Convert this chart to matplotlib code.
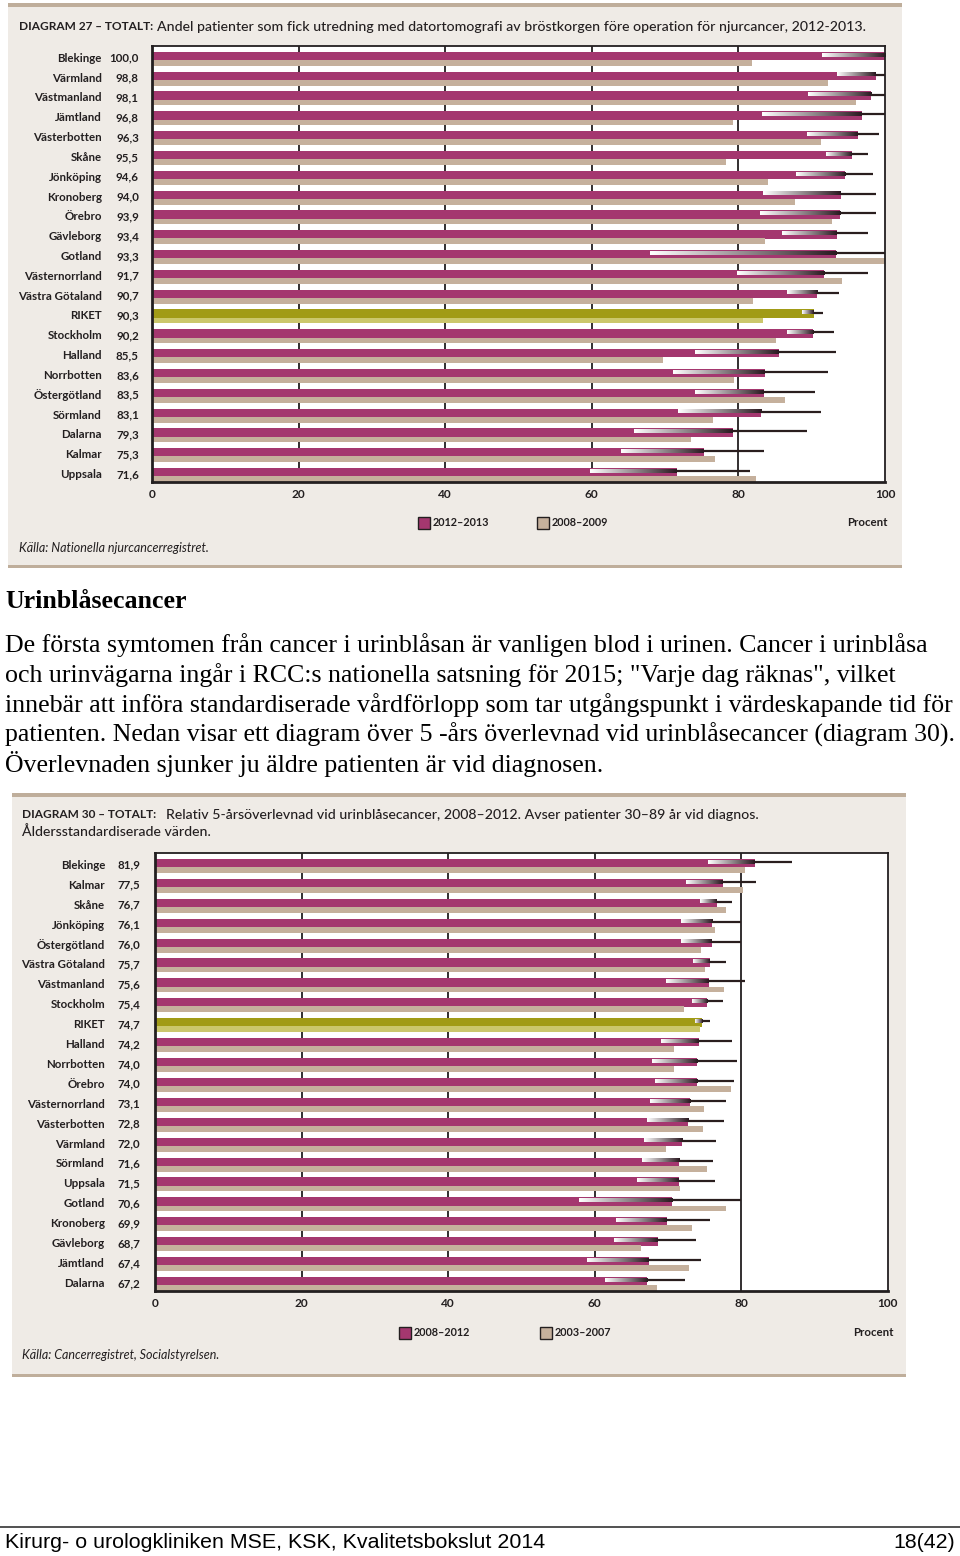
import matplotlib
matplotlib.use('Agg')
import matplotlib.pyplot as plt
import numpy as np
from matplotlib.patches import Rectangle
from matplotlib import transforms
from matplotlib.lines import Line2D

W, H = 960, 1556

# ---------------- Diagram 27 data ----------------
d27_regions = ["Blekinge", "Värmland", "Västmanland", "Jämtland", "Västerbotten", "Skåne",
               "Jönköping", "Kronoberg", "Örebro", "Gävleborg", "Gotland", "Västernorrland",
               "Västra Götaland", "RIKET", "Stockholm", "Halland", "Norrbotten", "Östergötland",
               "Sörmland", "Dalarna", "Kalmar", "Uppsala"]
d27_2012_2013 = [100.0, 98.8, 98.1, 96.8, 96.3, 95.5, 94.6, 94.0, 93.9, 93.4, 93.3, 91.7,
                 90.7, 90.3, 90.2, 85.5, 83.6, 83.5, 83.1, 79.3, 75.3, 71.6]
d27_2008_2009 = [81.8, 92.2, 96.1, 79.2, 91.3, 78.3, 84.0, 87.7, 92.8, 83.6, 100.0, 94.2,
                 82.0, 83.4, 85.1, 69.7, 79.4, 86.4, 76.5, 73.6, 76.8, 82.4]
d27_ci_low = [91.4, 93.5, 89.5, 83.2, 89.4, 92.0, 87.8, 83.4, 82.9, 86.0, 67.9, 79.8,
              86.6, 88.7, 86.6, 74.1, 71.1, 74.1, 71.7, 65.8, 64.0, 59.8]
d27_ci_high = [100.0, 100.0, 100.0, 100.0, 99.2, 97.7, 98.3, 98.8, 98.8, 97.7, 100.0, 97.7,
               93.7, 91.5, 93.1, 93.3, 92.2, 90.5, 91.3, 89.3, 83.5, 81.6]

# ---------------- Diagram 30 data ----------------
d30_regions = ["Blekinge", "Kalmar", "Skåne", "Jönköping", "Östergötland", "Västra Götaland",
               "Västmanland", "Stockholm", "RIKET", "Halland", "Norrbotten", "Örebro",
               "Västernorrland", "Västerbotten", "Värmland", "Sörmland", "Uppsala", "Gotland",
               "Kronoberg", "Gävleborg", "Jämtland", "Dalarna"]
d30_2008_2012 = [81.9, 77.5, 76.7, 76.1, 76.0, 75.7, 75.6, 75.4, 74.7, 74.2, 74.0, 74.0,
                 73.1, 72.8, 72.0, 71.6, 71.5, 70.6, 69.9, 68.7, 67.4, 67.2]
d30_2003_2007 = [80.5, 80.3, 77.9, 76.4, 74.6, 75.1, 77.7, 72.2, 74.4, 70.9, 70.9, 78.6,
                 75.0, 74.8, 69.7, 75.3, 71.7, 77.9, 73.3, 66.4, 72.9, 68.6]
d30_ci_low = [75.5, 72.5, 74.4, 71.8, 71.8, 73.5, 69.8, 73.3, 73.7, 69.1, 67.8, 68.2,
              67.6, 67.2, 66.7, 66.5, 65.8, 57.9, 63.0, 62.7, 59.0, 61.4]
d30_ci_high = [87.0, 82.0, 78.8, 80.0, 80.0, 78.0, 80.5, 77.5, 75.7, 78.8, 79.5, 79.0,
               78.0, 77.7, 76.6, 76.2, 76.4, 80.0, 75.7, 73.9, 74.6, 72.4]

x_ticks = [0, 20, 40, 60, 80, 100]

# ---------------- styles ----------------
PURPLE = '#a4376f'
TAN = '#c5b09c'
RIKET_DARK = '#a19b16'
RIKET_LIGHT = '#cbc76c'
PANEL = '#efebe6'
BORDER = '#bfae9b'
DARK = '#231f20'
FONT = 'Lato'
LBL = 8.3

fig = plt.figure(figsize=(W / 100, H / 100), dpi=100)
fig.patch.set_facecolor('white')


def ft(x, y, s, **kw):
    return fig.text(x / W, 1 - y / H, s, **kw)


def add_axes(l, t, r, b):
    return fig.add_axes([l / W, 1 - b / H, (r - l) / W, (b - t) / H])


def panel(l, t, r, b):
    fig.add_artist(Rectangle((l / W, 1 - b / H), (r - l) / W, (b - t) / H,
                             transform=fig.transFigure, facecolor=PANEL, edgecolor='none', zorder=0))
    for yy, hh in ((t, 4), (b - 3, 3)):
        fig.add_artist(Rectangle((l / W, 1 - (yy + hh) / H), (r - l) / W, hh / H,
                                 transform=fig.transFigure, facecolor=BORDER, edgecolor='none', zorder=0))


GRAD = np.linspace(0, 1, 64)
C0 = np.array([1.0, 1.0, 1.0])
C1 = np.array([0.17, 0.10, 0.13])
GRAD_IMG = (C0[None, :] + (C1 - C0)[None, :] * GRAD[:, None])[None, :, :]


def chart(ax, regions, cur, prev, low, high, name_x, val_x):
    n = len(regions)
    ax.set_facecolor('white')
    for xv in x_ticks[1:-1]:
        ax.axvline(xv, color=DARK, lw=1.3, zorder=1)
    trans = transforms.blended_transform_factory(fig.transFigure, ax.transData)
    for i, reg in enumerate(regions):
        riket = reg == 'RIKET'
        ax.barh(i + 0.505, cur[i], height=0.42, color=RIKET_DARK if riket else PURPLE,
                edgecolor='none', zorder=2)
        ax.barh(i + 0.855, prev[i], height=0.29, color=RIKET_LIGHT if riket else TAN,
                edgecolor='none', zorder=2)
        yl = i + 0.45
        ax.imshow(GRAD_IMG, extent=[low[i], cur[i], yl + 0.085, yl - 0.085], aspect='auto',
                  interpolation='bilinear', zorder=3)
        if high[i] > cur[i]:
            ax.plot([cur[i], high[i]], [yl, yl], color='#2a1e1e', lw=1.6,
                    solid_capstyle='butt', zorder=3)
        ax.text(name_x / W, i + 0.62, reg, transform=trans, ha='right', va='center',
                fontsize=LBL, fontweight='bold', family=FONT, color=DARK)
        ax.text(val_x / W, i + 0.62, f"{cur[i]:.1f}".replace('.', ','), transform=trans,
                ha='right', va='center', fontsize=LBL, fontweight='bold', family=FONT, color=DARK)
    ax.set_aspect('auto')
    ax.set_xlim(0, 100)
    ax.set_ylim(n, 0)
    ax.set_xticks(x_ticks)
    ax.set_xticklabels([str(t) for t in x_ticks], fontsize=8.6, fontweight='bold',
                       family=FONT, color=DARK)
    ax.tick_params(axis='x', length=0, pad=5)
    ax.set_yticks([])
    for s in ['top', 'right']:
        ax.spines[s].set_linewidth(1.3)
        ax.spines[s].set_color(DARK)
    for s in ['left', 'bottom']:
        ax.spines[s].set_linewidth(2.0)
        ax.spines[s].set_color(DARK)
    for sp in ax.spines.values():
        sp.set_zorder(4)


def legend_box(x, y, color, label):
    fig.add_artist(Rectangle((x / W, 1 - (y + 12) / H), 12 / W, 12 / H, transform=fig.transFigure,
                             facecolor=color, edgecolor=DARK, lw=1.0, zorder=2))
    ft(x + 15, y + 6, label, ha='left', va='center', fontsize=7.8, fontweight='bold',
       family=FONT, color=DARK)


# ---------------- Chart 1 ----------------
panel(8, 3, 902, 568)
ft(19, 27, "DIAGRAM 27 – TOTALT:", ha='left', va='center', fontsize=8.6, fontweight='bold',
   family=FONT, color=DARK)
ft(157, 27, "Andel patienter som fick utredning med datortomografi av bröstkorgen före operation för njurcancer, 2012-2013.",
   ha='left', va='center', fontsize=10.2, fontweight='medium', family=FONT, color=DARK)
ax1 = add_axes(152, 46, 885, 482)
chart(ax1, d27_regions, d27_2012_2013, d27_2008_2009, d27_ci_low, d27_ci_high, 102, 139)
legend_box(418, 517, PURPLE, "2012–2013")
legend_box(537, 517, TAN, "2008–2009")
ft(888, 522, "Procent", ha='right', va='center', fontsize=LBL, fontweight='bold', family=FONT, color=DARK)
ft(19, 548, "Källa: Nationella njurcancerregistret.", ha='left', va='center', fontsize=9,
   style='italic', family=FONT, color=DARK)

# ---------------- Body text ----------------
SERIF = 'Liberation Serif'
BODY = 18.6
ft(5, 602, "Urinblåsecancer", ha='left', va='center', fontsize=BODY, fontweight='bold', family=SERIF, color='black')
body = ["De första symtomen från cancer i urinblåsan är vanligen blod i urinen. Cancer i urinblåsa",
        "och urinvägarna ingår i RCC:s nationella satsning för 2015; \"Varje dag räknas\", vilket",
        "innebär att införa standardiserade vårdförlopp som tar utgångspunkt i värdeskapande tid för",
        "patienten. Nedan visar ett diagram över 5 -års överlevnad vid urinblåsecancer (diagram 30).",
        "Överlevnaden sjunker ju äldre patienten är vid diagnosen."]
for k, line in enumerate(body):
    ft(5, 645 + 29.8 * k, line, ha='left', va='center', fontsize=BODY, family=SERIF, color='black')

# ---------------- Chart 2 ----------------
panel(12, 793, 906, 1377)
ft(22, 815, "DIAGRAM 30 – TOTALT:", ha='left', va='center', fontsize=8.6, fontweight='bold',
   family=FONT, color=DARK)
ft(166, 815, "Relativ 5-årsöverlevnad vid urinblåsecancer, 2008–2012. Avser patienter 30–89 år vid diagnos.",
   ha='left', va='center', fontsize=10.2, fontweight='medium', family=FONT, color=DARK)
ft(22, 832, "Åldersstandardiserade värden.", ha='left', va='center', fontsize=10.2, fontweight='medium',
   family=FONT, color=DARK)
ax2 = add_axes(155, 853, 887.5, 1291)
chart(ax2, d30_regions, d30_2008_2012, d30_2003_2007, d30_ci_low, d30_ci_high, 105, 140)
legend_box(399, 1327, PURPLE, "2008–2012")
legend_box(540, 1327, TAN, "2003–2007")
ft(894, 1333, "Procent", ha='right', va='center', fontsize=LBL, fontweight='bold', family=FONT, color=DARK)
ft(22, 1355, "Källa: Cancerregistret, Socialstyrelsen.", ha='left', va='center', fontsize=9,
   style='italic', family=FONT, color=DARK)

# ---------------- Footer ----------------
fig.add_artist(Line2D([0, 1], [1 - 1527 / H, 1 - 1527 / H], transform=fig.transFigure, color='#333333', lw=1.2))
ft(5, 1543, "Kirurg- o urologkliniken MSE, KSK, Kvalitetsbokslut 2014", ha='left', va='center',
   fontsize=15.4, family='Liberation Sans', color='black')
ft(955, 1543, "18(42)", ha='right', va='center', fontsize=15.4, family='Liberation Sans', color='black')

fig.savefig('out.png', dpi=100, facecolor='white')
